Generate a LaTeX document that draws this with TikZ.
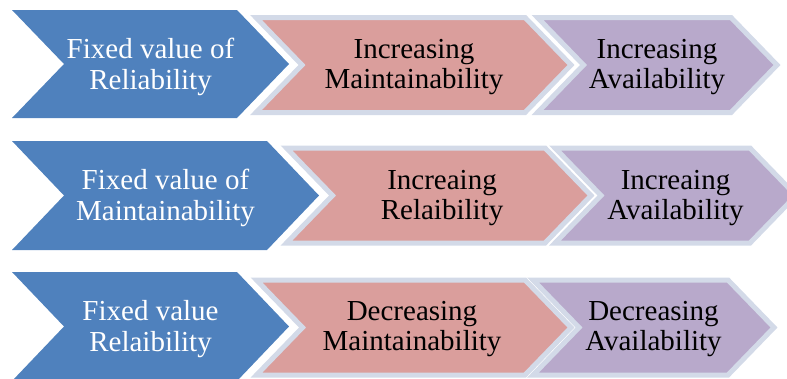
\documentclass[tikz,border=0pt]{standalone}
\usepackage{fontspec}
\setmainfont{Liberation Serif}
\usepackage{tikz}

\definecolor{chevblue}{HTML}{4F81BD}
\definecolor{chevpink}{HTML}{DA9E9C}
\definecolor{chevlilac}{HTML}{B8A9CB}
\definecolor{chevedge}{HTML}{D3DAE8}

% chevron: style, left x, right x, centre y, half height, point depth
\newcommand{\chev}[6]{%
	\filldraw[#1] (#2,#4-#5) -- (#3,#4-#5) -- (#3+#6,#4) -- (#3,#4+#5)
		-- (#2,#4+#5) -- (#2+#6,#4) -- cycle;}

\tikzset{
	firststep/.style={fill=chevblue,draw=none},
	midstep/.style={fill=chevpink,draw=chevedge,line width=5pt},
	laststep/.style={fill=chevlilac,draw=chevedge,line width=5pt},
	steptext/.style={align=center,inner sep=0pt,font=\fontsize{29}{30.5}\selectfont},
}

\begin{document}
\begin{tikzpicture}[x=1pt,y=-1pt]
	\useasboundingbox (0,0) rectangle (787,378);
	\begin{scope}
	\clip (0,0) rectangle (787,378);
	% first row
	\chev{firststep}{12}{237}{64}{54}{52}
	\chev{midstep}{256}{525}{65}{47.5}{46}
	\chev{laststep}{537.5}{731}{65}{47.5}{46}
	% second row
	\chev{firststep}{12}{267}{195.5}{54.5}{52}
	\chev{midstep}{286.5}{545}{195.5}{47.5}{46}
	\chev{laststep}{555}{750}{195.5}{47.5}{46}
	% third row
	\chev{firststep}{12}{237}{326.5}{54.5}{52}
	\chev{midstep}{256.5}{525}{327.5}{47.5}{46}
	\chev{laststep}{533}{728}{327.5}{47.5}{46}
	\end{scope}
	% labels
	\node[steptext,text=white] (fixrel) at (150.5,67) {Fixed value of\\Reliability};
	\node[steptext] (incmain) at (414,67) {Increasing\\Maintainability};
	\node[steptext] (incavail) at (657,67) {Increasing\\Availability};

	\node[steptext,text=white] (fixmain) at (165.5,198) {Fixed value of\\Maintainability};
	\node[steptext] (increl) at (442,198) {Increaing\\Relaibility};
	\node[steptext] (incavail2) at (675.5,198) {Increaing\\Availability};

	\node[steptext,text=white] (fixrel2) at (150.5,329) {Fixed value\\Relaibility};
	\node[steptext] (decmain) at (412,329) {Decreasing\\Maintainability};
	\node[steptext] (decavail) at (653.5,329) {Decreasing\\Availability};
\end{tikzpicture}
\end{document}
